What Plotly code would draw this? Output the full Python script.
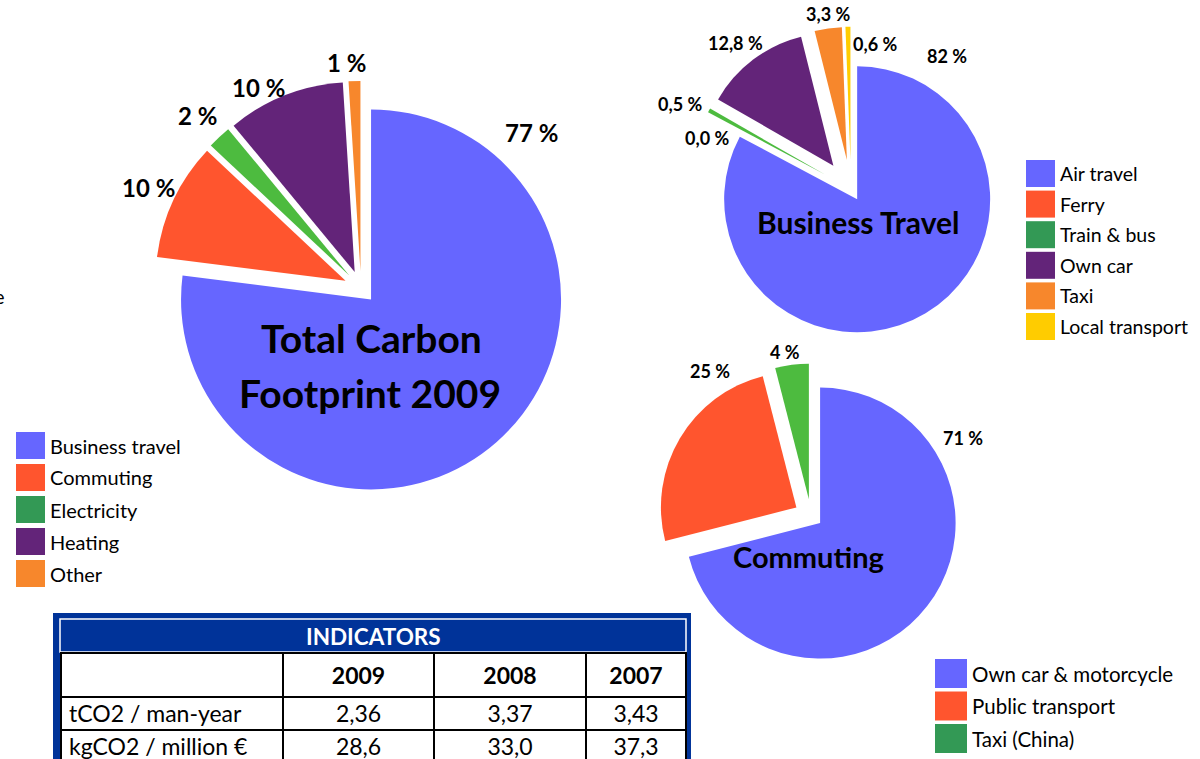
import plotly.graph_objects as go

W, H = 1200, 759

# ---------------- data ----------------
total_labels = ["Business travel", "Commuting", "Electricity", "Heating", "Other"]
total_values = [77, 10, 2, 10, 1]

bt_labels = ["Air travel", "Ferry", "Train & bus", "Own car", "Taxi", "Local transport"]
bt_values = [82.8, 0.0, 0.5, 12.8, 3.3, 0.6]
bt_text = ["82 %", "0,0 %", "0,5 %", "12,8 %", "3,3 %", "0,6 %"]

cm_labels = ["Own car & motorcycle", "Public transport", "Taxi (China)"]
cm_values = [71, 25, 4]

ind_rows = ["tCO2 / man-year", "kgCO2 / million €"]
ind_years = ["2009", "2008", "2007"]
ind_2009 = ["2,36", "28,6"]
ind_2008 = ["3,37", "33,0"]
ind_2007 = ["3,43", "37,3"]

# ---------------- styles ----------------
FONT = "Lato"
BLUE = "#6666FF"
RED = "#FF552E"
GREEN_SLICE = "#4DBB3F"
GREEN_LEG = "#339955"
PURPLE = "#632479"
ORANGE = "#F7872C"
YELLOW = "#FFCC00"
NAVY = "#003399"

total_slice_colors = [BLUE, RED, GREEN_SLICE, PURPLE, ORANGE]
total_leg_colors = [BLUE, RED, GREEN_LEG, PURPLE, ORANGE]
bt_slice_colors = [BLUE, RED, GREEN_SLICE, PURPLE, ORANGE, YELLOW]
bt_leg_colors = [BLUE, RED, GREEN_LEG, PURPLE, ORANGE, YELLOW]
cm_slice_colors = [BLUE, RED, GREEN_SLICE]
cm_leg_colors = [BLUE, RED, GREEN_LEG]


def px(x):
    return x / W


def py(y):
    return 1 - y / H


def domain(cx, cy, r, maxpull):
    half = r * (1 + maxpull)
    return dict(x=[px(cx - half), px(cx + half)], y=[py(cy + half), py(cy - half)])


fig = go.Figure()

total_pull = [0.08, 0.09, 0.09, 0.09, 0.09]
fig.add_trace(go.Pie(
    labels=total_labels, values=total_values, sort=False, direction="clockwise",
    rotation=0, pull=total_pull, textinfo="none", hoverinfo="label+value",
    marker=dict(colors=total_slice_colors, line=dict(width=0)),
    domain=domain(361, 288, 190, max(total_pull)), showlegend=False))

bt_pull = [0.09, 0.22, 0.22, 0.22, 0.22, 0.22]
fig.add_trace(go.Pie(
    labels=bt_labels, values=bt_values, sort=False, direction="clockwise",
    rotation=0, pull=bt_pull, textinfo="none", hoverinfo="label+value",
    marker=dict(colors=bt_slice_colors, line=dict(width=0)),
    domain=domain(851, 189, 133, max(bt_pull)), showlegend=False))

cm_pull = [0.085, 0.125, 0.125]
fig.add_trace(go.Pie(
    labels=cm_labels, values=cm_values, sort=False, direction="clockwise",
    rotation=0, pull=cm_pull, textinfo="none", hoverinfo="label+value",
    marker=dict(colors=cm_slice_colors, line=dict(width=0)),
    domain=domain(811, 516, 135.5, max(cm_pull)), showlegend=False))

# Indicators table
fig.add_trace(go.Table(
    domain=dict(x=[px(61), px(686)], y=[0, py(653)]),
    columnwidth=[222, 151, 152, 100],
    header=dict(values=[""] + ["<b>%s</b>" % y for y in ind_years],
                fill_color="white", line=dict(color="black", width=2),
                align=["left", "center", "center", "center"],
                font=dict(family=FONT, size=23, color="black"), height=37),
    cells=dict(values=[ind_rows, ind_2009, ind_2008, ind_2007],
               fill_color="white", line=dict(color="black", width=2),
               align=["left", "center", "center", "center"],
               font=dict(family=FONT, size=23, color="black"), height=33),
))

annotations = []
shapes = []


def text(x, y, t, size, color="black", xanchor="center"):
    annotations.append(dict(x=px(x), y=py(y), text=t, showarrow=False,
                            xanchor=xanchor, yanchor="middle",
                            font=dict(family=FONT, size=size, color=color)))


# percentage labels
total_text = ["%d %%" % v for v in total_values]
total_lpos = [(531, 133), (148, 187), (197, 116), (258, 87), (346, 62)]
for t, (x, y) in zip(total_text, total_lpos):
    text(x, y, "<b>%s</b>" % t, 24)

bt_lpos = [(947, 56), (707, 138), (680, 104), (735, 43), (828, 14), (875, 44)]
for t, (x, y) in zip(bt_text, bt_lpos):
    text(x, y, "<b>%s</b>" % t, 18)

cm_text = ["%d %%" % v for v in cm_values]
cm_lpos = [(963, 438), (710, 371), (785, 352)]
for t, (x, y) in zip(cm_text, cm_lpos):
    text(x, y, "<b>%s</b>" % t, 18)

# pie titles
for t, (x, y), s in [("Total Carbon", (371, 338), 39), ("Footprint 2009", (370, 393), 39),
                     ("Business Travel", (858, 222), 30), ("Commuting", (808, 556), 29)]:
    text(x, y, "<b>%s</b>" % t, s)


# legends
def legend(labels, colors, x0, y0, step, bw, bh, size):
    for i, (lab, col) in enumerate(zip(labels, colors)):
        top = y0 + i * step
        shapes.append(dict(type="rect", xref="paper", yref="paper",
                           x0=px(x0), x1=px(x0 + bw), y0=py(top + bh), y1=py(top),
                           fillcolor=col, line=dict(width=0)))
        text(x0 + bw + 3, top + bh / 2, lab, size, xanchor="left")


legend(total_labels, total_leg_colors, 16, 432, 32, 29, 27, 20)
legend(bt_labels, bt_leg_colors, 1026, 160, 30.6, 29, 27, 19.5)
legend(cm_labels, cm_leg_colors, 935, 659, 32.5, 32, 29, 20.5)

# table frame
shapes.append(dict(type="rect", xref="paper", yref="paper", layer="below",
                   x0=px(53), x1=px(691), y0=py(800), y1=py(613),
                   fillcolor=NAVY, line=dict(width=0)))
shapes.append(dict(type="rect", xref="paper", yref="paper", layer="below",
                   x0=px(60), x1=px(686), y0=py(800), y1=py(653),
                   fillcolor="white", line=dict(width=0)))
shapes.append(dict(type="rect", xref="paper", yref="paper", layer="below",
                   x0=px(60), x1=px(686), y0=py(652), y1=py(619),
                   fillcolor=NAVY, line=dict(color="white", width=1.5)))
text(373, 636, "<b>INDICATORS</b>", 22.5, color="white")

# cut-off text fragment at left edge
text(7, 296, "e", 20, xanchor="right")

fig.update_layout(width=W, height=H, margin=dict(l=0, r=0, t=0, b=0),
                  paper_bgcolor="white", plot_bgcolor="white",
                  annotations=annotations, shapes=shapes, showlegend=False)

fig.write_html("out.html")
